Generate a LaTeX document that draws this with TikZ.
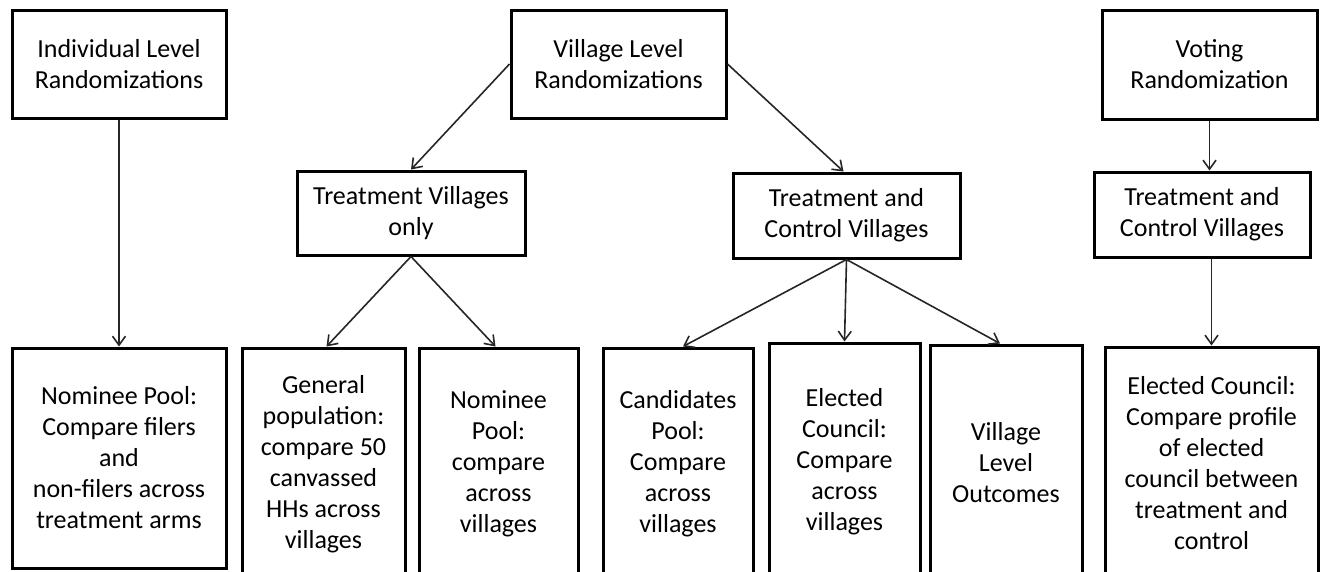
\documentclass[tikz,border=0pt]{standalone}
\usepackage{fontspec}
\setmainfont{Carlito}
\usetikzlibrary{arrows.meta}
\begin{document}
\begin{tikzpicture}[x=1pt,y=-1pt,
  box/.style={draw=black,line width=3pt,align=center,inner sep=0pt,fill=white,
    font=\fontsize{26}{31}\selectfont},
  arr/.style={draw=black!85,line width=1.6pt,
    -{Straight Barb[length=9pt,width=13pt,line width=1.6pt]}}]
\useasboundingbox (0,0) rectangle (1320,571);
% top row
\node[box,minimum width=214,minimum height=108] (ind) at (119,64) {Individual Level\\Randomizations};
\node[box,minimum width=215,minimum height=108] (vil) at (618.5,64) {Village Level\\Randomizations};
\node[box,minimum width=215,minimum height=109] (vot) at (1209.5,64.5) {Voting\\Randomization};
% middle row
\node[box,minimum width=228,minimum height=84] (tvo) at (411,213) {Treatment Villages\\only};
\node[box,minimum width=227,minimum height=85] (tcv) at (846.5,215.5) {Treatment and\\Control Villages};
\node[box,minimum width=216,minimum height=85] (vtcv) at (1202,214.5) {Treatment and\\Control Villages};
% bottom row
\node[box,minimum width=214,minimum height=220] (nomind) at (119,458) {Nominee Pool:\\Compare filers\\and\\non-filers across\\treatment arms};
\node[box,minimum width=163,minimum height=232] (genpop) at (323.5,464) {General\\population:\\compare 50\\canvassed\\HHs across\\villages};
\node[box,minimum width=159,minimum height=232] (nompool) at (498.5,464) {Nominee\\Pool:\\compare\\across\\villages};
\node[box,minimum width=150,minimum height=232] (cand) at (678,464) {Candidates\\Pool:\\Compare\\across\\villages};
\node[box,minimum width=151,minimum height=237] (elec) at (844.5,461.5) {Elected\\Council:\\Compare\\across\\villages};
\node[box,minimum width=152,minimum height=235] (vlo) at (1006,462.5) {Village\\Level\\Outcomes};
\node[box,minimum width=213,minimum height=233] (ecc) at (1211.5,463.5) {Elected Council:\\Compare profile\\of elected\\council between\\treatment and\\control};
% connectors
\draw[arr] (ind.south) -- (nomind.north);
\draw[arr] (vil.west) -- (tvo.north);
\draw[arr] (vil.east) -- ([xshift=-3]tcv.north);
\draw[arr] (vot.south) -- (vot.south |- vtcv.north);
\draw[arr] (tvo.south) -- ([xshift=3]genpop.north);
\draw[arr] (tvo.south) -- ([xshift=-3]nompool.north);
\draw[arr] (tcv.south) -- ([xshift=5]cand.north);
\draw[arr] (tcv.south) -- (elec.north);
\draw[arr] (tcv.south) -- ([xshift=-6]vlo.north);
\draw[arr] (ecc.north |- vtcv.south) -- (ecc.north);
\end{tikzpicture}
\end{document}
